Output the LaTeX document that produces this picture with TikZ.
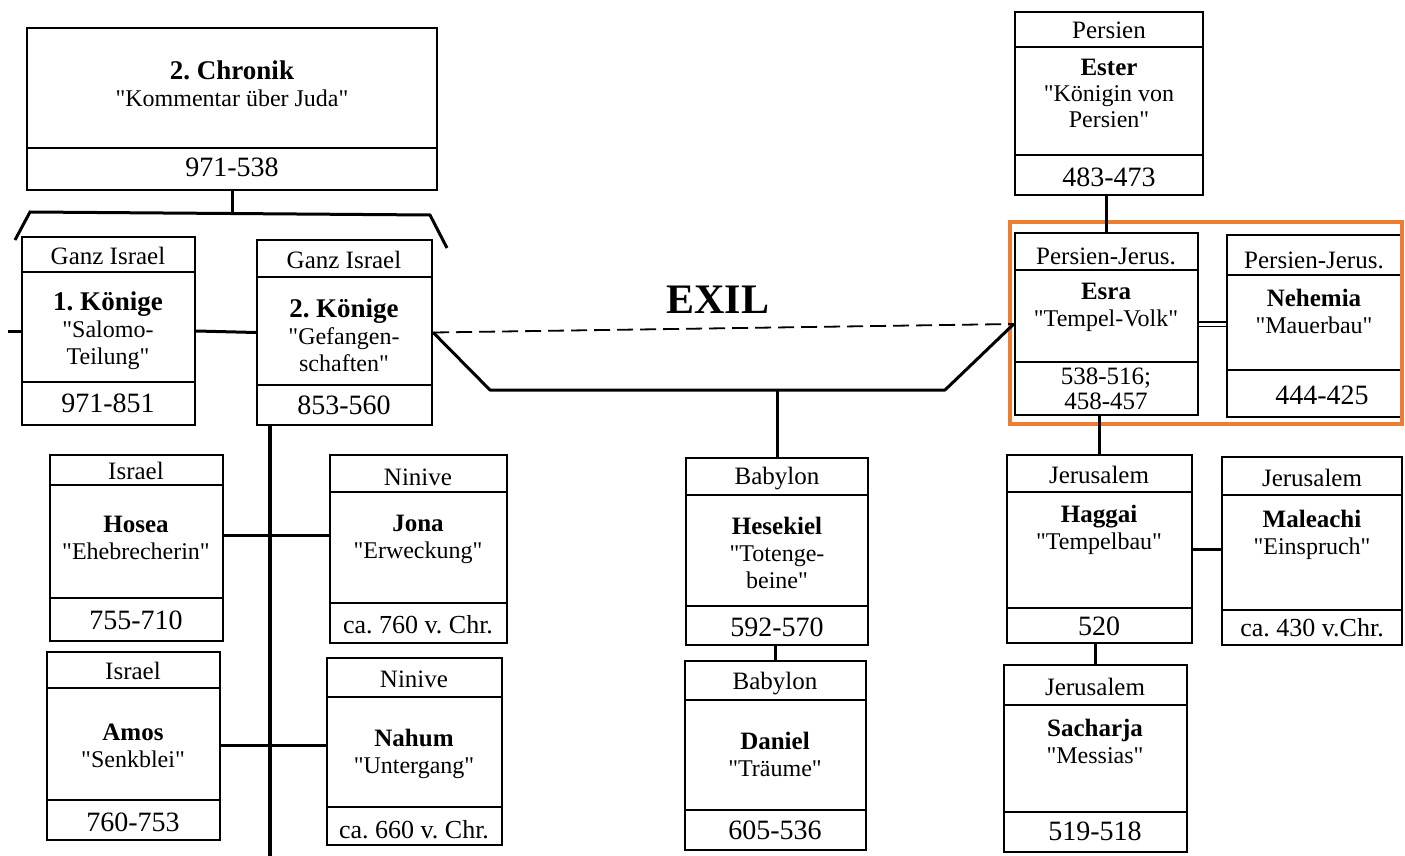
\documentclass[tikz,border=0pt]{standalone}
\usepackage{fontspec}
\setmainfont{Liberation Serif}[Ligatures=TeXOff]
\usetikzlibrary{fit}
\definecolor{hlorange}{RGB}{237,125,49}
\newcommand\dq{\char34\relax}
\frenchspacing
\begin{document}
\begin{tikzpicture}[x=1pt,y=-1pt,
 box/.style={draw, line width=2.4pt, inner sep=0pt},
 div/.style={line width=1.8pt},
 conn/.style={line width=3pt},
 loc/.style={font=\fontsize{25}{27}\selectfont, inner sep=0pt},
 nm/.style={font=\fontsize{24}{27}\selectfont, align=center, inner sep=0pt},
 dt/.style={font=\fontsize{28}{24}\selectfont, align=center, inner sep=0pt}
]
\useasboundingbox (0,0) rectangle (1405,856);

% ---------- 2. Chronik
\node[box, fit={(27,28)(437,190)}] (chron) {};
\draw[div] (27,148) -- (437,148);
\node[nm] (chronN) at (232,84) {{\bfseries\fontsize{27}{28}\selectfont 2. Chronik}\\\dq Kommentar über Juda\dq};
\node[dt] (chronD) at (232,167) {971-538};

% bracket
\coordinate (brkL) at (15,240);
\coordinate (brkR) at (447,248);
\coordinate (brk) at (232,213);
\draw[conn] (brkL) -- (30,212) -- (430,215) -- (brkR);
\draw[conn] (chron.south) -- (brk);

% ---------- 1. Koenige
\node[box, fit={(22,237)(195,425)}] (k1) {};
\draw[div] (22,272) -- (195,272);
\draw[div] (22,382) -- (195,382);
\node[loc] (k1L) at (108,256) {Ganz Israel};
\node[nm] (k1N) at (108,331) {{\bfseries\fontsize{27}{27}\selectfont 1. Könige}\\\dq Salomo-\\Teilung\dq};
\node[dt] (k1D) at (108,403) {971-851};

% ---------- 2. Koenige
\node[box, fit={(257,240)(432,425)}] (k2) {};
\draw[div] (257,277) -- (432,277);
\draw[div] (257,385) -- (432,385);
\node[loc] (k2L) at (344,260) {Ganz Israel};
\node[nm] (k2N) at (344,335) {{\bfseries\fontsize{27}{27}\selectfont 2. Könige}\\\dq Gefangen-\\schaften\dq};
\node[dt] (k2D) at (344,405) {853-560};

\coordinate (stub) at (8,331);
\draw[conn] (stub) -- (k1.west);
\draw[conn] (k1.east) -- (k2.west);

% ---------- Hosea
\node[box, fit={(50,455)(223,641)}] (hos) {};
\draw[div] (50,485) -- (223,485);
\draw[div] (50,598) -- (223,598);
\node[loc] (hosL) at (136,471) {Israel};
\node[nm] (hosN) at (136,538) {{\bfseries\fontsize{25}{27}\selectfont Hosea}\\\dq Ehebrecherin\dq};
\node[dt] (hosD) at (136,620) {755-710};

% ---------- Amos
\node[box, fit={(47,652)(220,840)}] (amos) {};
\draw[div] (47,688) -- (220,688);
\draw[div] (47,800) -- (220,800);
\node[loc] (amosL) at (133,671) {Israel};
\node[nm] (amosN) at (133,746) {{\bfseries\fontsize{25}{27}\selectfont Amos}\\\dq Senkblei\dq};
\node[dt] (amosD) at (133,822) {760-753};

% ---------- Jona
\node[box, fit={(330,455)(507,643)}] (jona) {};
\draw[div] (330,492) -- (507,492);
\draw[div] (330,603) -- (507,603);
\node[loc] (jonaL) at (418,477) {Ninive};
\node[nm] (jonaN) at (418,539) {{\bfseries\fontsize{25}{24}\selectfont Jona}\\\dq Erweckung\dq};
\node[dt, font=\fontsize{26}{24}\selectfont] (jonaD) at (418,625) {ca. 760 v. Chr.};

% ---------- Nahum
\node[box, fit={(327,658)(502,845)}] (nah) {};
\draw[div] (327,697) -- (502,697);
\draw[div] (327,807) -- (502,807);
\node[loc] (nahL) at (414,679) {Ninive};
\node[nm] (nahN) at (414,754) {{\bfseries\fontsize{25}{27}\selectfont Nahum}\\\dq Untergang\dq};
\node[dt, font=\fontsize{26}{24}\selectfont] (nahD) at (414,830) {ca. 660 v. Chr.};

% vertical line from 2. Koenige and side branches
\coordinate (vb) at (270,856);
\draw[line width=3.6pt] (vb |- k2.south) -- (vb);
\coordinate (h1) at (0,535);
\coordinate (h2) at (0,745);
\draw[conn] (hos.east |- h1) -- (jona.west |- h1);
\draw[conn] (amos.east |- h2) -- (nah.west |- h2);

% ---------- Hesekiel
\node[box, fit={(686,458)(868,645)}] (hes) {};
\draw[div] (686,495) -- (868,495);
\draw[div] (686,606) -- (868,606);
\node[loc] (hesL) at (777,479) {Babylon};
\node[nm] (hesN) at (777,553) {{\bfseries\fontsize{25}{29}\selectfont Hesekiel}\\\dq Totenge-\\beine\dq};
\node[dt] (hesD) at (777,627) {592-570};

% ---------- Daniel
\node[box, fit={(685,661)(866,850)}] (dan) {};
\draw[div] (685,700) -- (866,700);
\draw[div] (685,810) -- (866,810);
\node[loc] (danL) at (775,684) {Babylon};
\node[nm] (danN) at (775,754) {{\bfseries\fontsize{25}{31}\selectfont Daniel}\\\dq Träume\dq};
\node[dt] (danD) at (775,830) {605-536};
\draw[conn] (dan.north |- hes.south) -- (dan.north);

% ---------- Ester
\node[box, fit={(1015,12)(1203,195)}] (est) {};
\draw[div] (1015,47) -- (1203,47);
\draw[div] (1015,155) -- (1203,155);
\node[loc] (estL) at (1109,30) {Persien};
\node[nm, font=\fontsize{24}{26}\selectfont] (estN) at (1109,93) {{\bfseries\fontsize{25}{26}\selectfont Ester}\\\dq Königin von\\Persien\dq};
\node[dt] (estD) at (1109,177) {483-473};

% ---------- Esra
\node[box, fit={(1015,233)(1198,415)}] (esra) {};
\draw[div] (1015,270) -- (1198,270);
\draw[div] (1015,362) -- (1198,362);
\node[loc] (esraL) at (1106,256) {Persien-Jerus.};
\node[nm] (esraN) at (1106,307) {{\bfseries\fontsize{25}{30}\selectfont Esra}\\\dq Tempel-Volk\dq};
\node[dt, font=\fontsize{25}{25}\selectfont] (esraD) at (1106,389) {538-516;\\458-457};

% ---------- Nehemia
\node[box, fit={(1227,235)(1401,417)}] (neh) {};
\draw[div] (1227,275) -- (1401,275);
\draw[div] (1227,370) -- (1401,370);
\node[loc] (nehL) at (1314,260) {Persien-Jerus.};
\node[nm] (nehN) at (1314,311) {{\bfseries\fontsize{25}{31}\selectfont Nehemia}\\\dq Mauerbau\dq};
\node[dt] (nehD) at (1322,395) {444-425};

% highlight
\node[draw=hlorange, line width=4pt, inner sep=0pt, fit={(1010,222)(1402,424)}] (hl) {};

% ---------- Haggai
\node[box, fit={(1007,455)(1192,643)}] (hag) {};
\draw[div] (1007,492) -- (1192,492);
\draw[div] (1007,608) -- (1192,608);
\node[loc] (hagL) at (1099,475) {Jerusalem};
\node[nm] (hagN) at (1099,530) {{\bfseries\fontsize{25}{34}\selectfont Haggai}\\\dq Tempelbau\dq};
\node[dt] (hagD) at (1099,626) {520};

% ---------- Maleachi
\node[box, fit={(1222,457)(1402,645)}] (mal) {};
\draw[div] (1222,495) -- (1402,495);
\draw[div] (1222,610) -- (1402,610);
\node[loc] (malL) at (1312,478) {Jerusalem};
\node[nm] (malN) at (1312,535) {{\bfseries\fontsize{25}{30}\selectfont Maleachi}\\\dq Einspruch\dq};
\node[dt, font=\fontsize{26}{24}\selectfont] (malD) at (1312,628) {ca. 430 v.Chr.};

% ---------- Sacharja
\node[box, fit={(1004,665)(1187,852)}] (sach) {};
\draw[div] (1004,705) -- (1187,705);
\draw[div] (1004,812) -- (1187,812);
\node[loc] (sachL) at (1095,687) {Jerusalem};
\node[nm] (sachN) at (1095,741) {{\bfseries\fontsize{25}{31}\selectfont Sacharja}\\\dq Messias\dq};
\node[dt] (sachD) at (1095,831) {519-518};

% right-side connectors
\draw[conn] (esra.north |- est.south) -- (esra.north);
\draw[line width=1.5pt, double, double distance=3pt] (esra.east) -- (neh.west |- esra.east);
\draw[conn] (hag.north |- esra.south) -- (hag.north);
\draw[conn] (hag.east) -- (mal.west |- hag.east);
\draw[conn] (sach.north |- hag.south) -- (sach.north);

% ---------- EXIL
\node[font=\bfseries\fontsize{42}{42}\selectfont] (exil) at (718,300) {EXIL};
\coordinate (trL) at (490,390);
\coordinate (trR) at (945,390);
\coordinate (trM) at (777,390);
\draw[line width=1.8pt, dash pattern=on 16pt off 7pt] (k2.east) -- (esra.west);
\draw[conn, line join=round] (k2.east) -- (trL) -- (trR) -- (esra.west);
\draw[conn] (trM) -- (hes.north);
\end{tikzpicture}
\end{document}
